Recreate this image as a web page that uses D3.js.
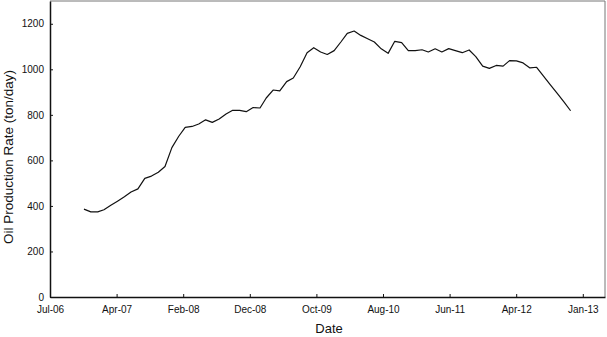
<!DOCTYPE html>
<html>
<head>
<meta charset="utf-8">
<script src="https://cdn.jsdelivr.net/npm/d3@7"></script>
<style>
  html, body { margin: 0; padding: 0; background: #fff; }
  svg { display: block; font-family: "Liberation Sans", Arial, sans-serif; }
</style>
</head>
<body>
<svg id="chart" width="607" height="337"></svg>
<script>
// ---- data ----
const axisStart = "2006-07-01";          // origin of the day axis
const axisSpanDays = 2500;               // axis length in days
const tickStepDays = 300;                // label step in days
const xTickLabels = ["Jul-06", "Apr-07", "Feb-08", "Dec-08", "Oct-09", "Aug-10", "Jun-11", "Apr-12", "Jan-13"];
const firstMonth = "2006-12-01";         // first monthly observation
const oilRate = [
  386, 374, 374, 383, 403, 421, 440, 461, 475, 521,
  531, 548, 573, 656, 706, 745, 749, 760, 778, 767,
  782, 804, 820, 820, 814, 832, 830, 874, 909, 905,
  946, 962, 1011, 1073, 1095, 1076, 1065, 1082, 1121, 1158,
  1168, 1149, 1134, 1120, 1090, 1070, 1123, 1117, 1082, 1082,
  1086, 1076, 1090, 1076, 1091, 1082, 1073, 1085, 1056, 1014,
  1004, 1017, 1014, 1038, 1037, 1028, 1006, 1009, 970, 932,
  895, 857, 818
];
const yTicks = [0, 200, 400, 600, 800, 1000, 1200];
const yMax = 1300;
const xTitle = "Date";
const yTitle = "Oil Production Rate (ton/day)";

// ---- layout ----
const svg = d3.select("#chart");
const L = 50, R = 605, T = 1, B = 297;

const t0 = new Date(axisStart + "T00:00:00Z");
const x = d3.scaleUtc()
  .domain([t0, d3.utcDay.offset(t0, axisSpanDays)])
  .range([L, R]);
const y = d3.scaleLinear().domain([0, yMax]).range([B, T]);

const m0 = new Date(firstMonth + "T00:00:00Z");
const data = oilRate.map((v, i) => ({ date: d3.utcMonth.offset(m0, i), value: v }));

const xTickVals = xTickLabels.map((_, i) => d3.utcDay.offset(t0, i * tickStepDays));

// frame (top/right)
svg.append("path")
  .attr("d", `M${L},${T}H${R}V${B}`)
  .attr("fill", "none")
  .attr("stroke", "#777")
  .attr("stroke-width", 1);

// x axis
const gx = svg.append("g")
  .attr("transform", `translate(0,${B})`)
  .call(d3.axisBottom(x)
    .tickValues(xTickVals)
    .tickFormat((d, i) => xTickLabels[i])
    .tickSizeInner(-3)
    .tickSizeOuter(0)
    .tickPadding(9));
gx.selectAll("text").attr("font-size", 10).attr("fill", "#111").attr("font-family", "Liberation Sans, Arial, sans-serif");
gx.select(".domain").attr("stroke", "#111").attr("stroke-width", 1.5);
gx.selectAll(".tick line").attr("stroke", "#111");

// y axis
const gy = svg.append("g")
  .attr("transform", `translate(${L},0)`)
  .call(d3.axisLeft(y)
    .tickValues(yTicks)
    .tickFormat(d3.format("d"))
    .tickSizeInner(-3)
    .tickSizeOuter(0)
    .tickPadding(6));
gy.selectAll("text").attr("font-size", 10).attr("fill", "#111").attr("font-family", "Liberation Sans, Arial, sans-serif");
gy.select(".domain").attr("stroke", "#111").attr("stroke-width", 1.5);
gy.selectAll(".tick line").attr("stroke", "#111");

// line
svg.append("path")
  .datum(data)
  .attr("fill", "none")
  .attr("stroke", "#111")
  .attr("stroke-width", 1.2)
  .attr("stroke-linejoin", "round")
  .attr("d", d3.line().x(d => x(d.date)).y(d => y(d.value)));

// titles
svg.append("text")
  .attr("x", 329).attr("y", 333)
  .attr("text-anchor", "middle")
  .attr("font-size", 13)
  .attr("fill", "#111")
  .text(xTitle);

svg.append("text")
  .attr("transform", "translate(13,157) rotate(-90)")
  .attr("text-anchor", "middle")
  .attr("font-size", 13.5)
  .attr("fill", "#111")
  .text(yTitle);
</script>
</body>
</html>
